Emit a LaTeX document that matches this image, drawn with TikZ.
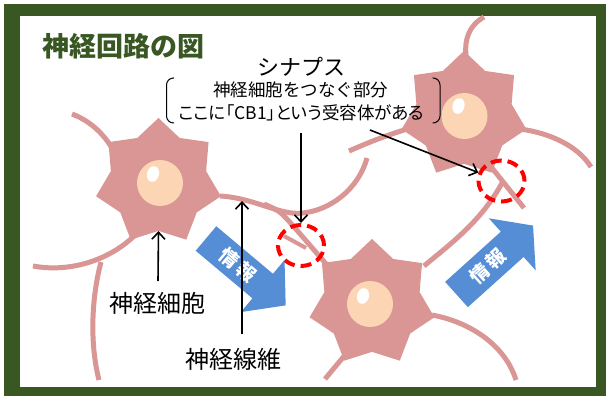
\documentclass[tikz,border=0pt]{standalone}
\usepackage{fontspec}
\newfontfamily\jp{Noto Sans CJK JP}
\newfontfamily\jpprop[RawFeature=+palt]{Noto Sans CJK JP}
\usetikzlibrary{shapes.geometric,arrows.meta}
\definecolor{cellpink}{HTML}{D99694}
\definecolor{nucleus}{HTML}{FCD5B5}
\definecolor{framegreen}{HTML}{385723}
\definecolor{infoblue}{HTML}{558ED5}
\newcommand\fsz[1]{\fontsize{#1}{#1}\selectfont}

\begin{document}
\begin{tikzpicture}[x=1pt,y=-1pt,
  fiber/.style={draw=cellpink, line width=5pt},
  soma/.style={star, star points=7, star point ratio=1.31, minimum size=128pt, inner sep=0pt, fill=cellpink},
  nuc/.style={circle, fill=nucleus, minimum size=46pt, inner sep=0pt},
  shine/.style={ellipse, fill=white, minimum width=12pt, minimum height=16pt, inner sep=0pt, rotate=-15},
  synapse/.style={ellipse, draw=red, line width=4pt, dash pattern=on 11pt off 6pt, minimum width=46pt, minimum height=41pt, inner sep=0pt},
  annot/.style={draw=black, line width=1.6pt, -{Straight Barb[length=7pt,width=13pt]}},
  tag/.style={font=\jp\fsz{24pt}, inner sep=0pt},
  infoarrow/.style={fill=infoblue},
  infotext/.style={font=\jp\bfseries\fsz{19pt}, text=white, inner sep=0pt},
  bracket/.style={draw=black, line width=1pt, rounded corners=7pt}
]
\useasboundingbox (0,0) rectangle (606,396);

% frame
\fill[white] (0,0) rectangle (606,396);
\fill[framegreen] (4,4) rectangle (606,396);
\fill[white] (20,16) rectangle (596,387);

% nerve fibres (drawn under the cell bodies)
\draw[fiber] (72,114) .. controls (88,120) and (103,132) .. (113,150);
\draw[fiber] (33,266) .. controls (70,273) and (112,260) .. (138,232);
\draw[fiber] (101,262) .. controls (91,300) and (90,345) .. (99,380);
\draw[fiber] (220,196) .. controls (255,198) and (280,216) .. (303,213)
                       .. controls (330,210) and (358,190) .. (367,158);
\draw[fiber] (264,204) .. controls (280,211) .. (295,228) -- (327,265);
\draw[fiber, line width=4pt] (284,236) -- (306,248);
\draw[fiber] (424,266) .. controls (445,248) and (482,222) .. (503,181);
\draw[fiber] (432,315) .. controls (470,322) and (505,345) .. (516,380);
\draw[fiber] (345,355) -- (325,379);
\draw[fiber] (467,62) .. controls (463,42) and (468,26) .. (484,17);
\draw[fiber] (520,129) .. controls (550,133) and (578,146) .. (591,167);
\draw[fiber] (349,151) .. controls (372,141) and (392,133) .. (418,126);
\draw[fiber] (484,158) -- (524,208);

% cell bodies
\node[soma] (n1) at (158.5,182) {};
\node[soma] (n2) at (464,115) {};
\node[soma] (n3) at (372,303) {};
\node[nuc] (k1) at (160,183) {};
\node[nuc] (k2) at (464.5,116) {};
\node[nuc] (k3) at (370,304) {};
\node[shine] (s1) at ([shift={(-7,-9)}]k1.center) {};
\node[shine] (s2) at ([shift={(-6,-10)}]k2.center) {};
\node[shine] (s3) at ([shift={(-7,-8)}]k3.center) {};

% direction of signal transmission
\begin{scope}[shift={(206,238.5)}, rotate=-40]
  \fill[infoarrow] (0,16) -- (74,16) -- (74,34) -- (104,0) -- (74,-34) -- (74,-16) -- (0,-16) -- cycle;
  \node[infotext, rotate=-40] (info1) at (42,0) {情\hspace{3pt}報};
\end{scope}
\begin{scope}[shift={(456.5,294.5)}, rotate=42]
  \fill[infoarrow] (0,17) -- (75,17) -- (75,35) -- (103,0) -- (75,-35) -- (75,-17) -- (0,-17) -- cycle;
  \node[infotext, rotate=42] (info2) at (42,0) {情\hspace{3pt}報};
\end{scope}

% synapses
\node[synapse] (syn1) at (301,245.5) {};
\node[synapse] (syn2) at (501.5,181) {};

% texts
\node[font=\jp\bfseries\fsz{27pt}, text=framegreen, inner sep=0pt] (title) at (123.5,46.5) {神経回路の図};
\node[font=\jp\fsz{22pt}, inner sep=0pt] (synlabel) at (301.5,67) {シナプス};
\node[font=\jp\fsz{17.5pt}, inner sep=0pt] (note1) at (300.5,90) {神経細胞をつなぐ部分};
\node[font=\jpprop\fsz{17.5pt}, inner sep=0pt] (note2) at (301.5,113) {ここに「CB1」という受容体がある};
\draw[bracket] (174,78) -- (166.5,78) -- (166.5,123) -- (174,123);
\draw[bracket] (432.5,78) -- (440,78) -- (440,123) -- (432.5,123);

\node[tag] (cell) at (157.5,303.5) {神経細胞};
\node[tag] (fibre) at (233.5,359) {神経線維};

% pointers
\coordinate (a1s) at (301,133);
\coordinate (a2s) at (370,130);
\coordinate (a3s) at (158,281);
\coordinate (a4s) at (242,334);
\coordinate (axonpt) at (242,201);
\draw[annot] (a1s) -- (syn1.north);
\draw[annot] (a2s) -- (syn2.160);
\draw[annot] (a3s) -- (n1.south);
\draw[annot] (a4s) -- (axonpt);
\end{tikzpicture}
\end{document}
